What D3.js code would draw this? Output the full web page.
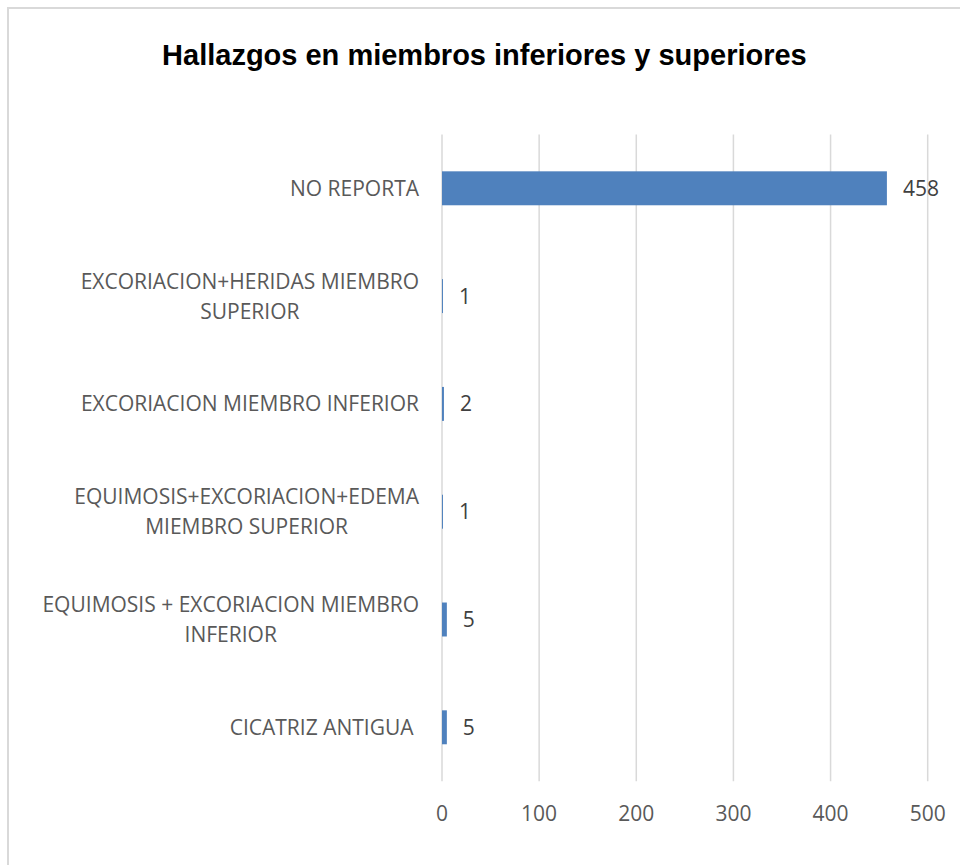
<!DOCTYPE html>
<html>
<head>
<meta charset="utf-8">
<script src="https://cdn.jsdelivr.net/npm/d3@7"></script>
<style>
  body { margin: 0; background: #fff; }
  svg { display: block; }
</style>
</head>
<body>
<div class="container"></div>
<script>
// categories top to bottom, "\n" marks where the label wraps
const categories = [
  "NO REPORTA",
  "EXCORIACION+HERIDAS MIEMBRO\nSUPERIOR",
  "EXCORIACION MIEMBRO INFERIOR",
  "EQUIMOSIS+EXCORIACION+EDEMA\nMIEMBRO SUPERIOR",
  "EQUIMOSIS + EXCORIACION MIEMBRO\nINFERIOR",
  "CICATRIZ ANTIGUA "
];
const values = [458, 1, 2, 1, 5, 5];
const xTicks = [0, 100, 200, 300, 400, 500];
const title = "Hallazgos en miembros inferiores y superiores";

const width = 960;
const height = 865;
const margin = { top: 134.4, right: 32.3, bottom: 83.8, left: 442 };

const svg = d3
  .select(".container")
  .append("svg")
  .attr("width", width)
  .attr("height", height);

// chart frame (only top and left edges fall inside the picture)
svg.append("rect")
  .attr("x", 8)
  .attr("y", 8)
  .attr("width", 1000)
  .attr("height", 1000)
  .attr("fill", "#fff")
  .attr("stroke", "#d9d9d9")
  .attr("stroke-width", 2);

svg.append("text")
  .attr("x", 484.4)
  .attr("y", 65)
  .attr("text-anchor", "middle")
  .style("font", "bold 29px 'Liberation Sans', Arial, sans-serif")
  .attr("fill", "#000")
  .text(title);

const x = d3.scaleLinear()
  .domain([0, 500])
  .range([margin.left, width - margin.right]);

const y = d3.scaleBand()
  .domain(categories)
  .range([margin.top, height - margin.bottom])
  .paddingInner(0.685)
  .paddingOuter(0.3425);

// vertical gridlines
svg.append("g")
  .selectAll("line")
  .data(xTicks)
  .join("line")
  .attr("x1", d => x(d))
  .attr("x2", d => x(d))
  .attr("y1", margin.top)
  .attr("y2", height - margin.bottom)
  .attr("stroke", "#d9d9d9")
  .attr("stroke-width", 1.5);

// x tick labels
svg.append("g")
  .selectAll("text")
  .data(xTicks)
  .join("text")
  .attr("x", d => x(d))
  .attr("y", 813)
  .attr("dy", "0.36em")
  .attr("text-anchor", "middle")
  .attr("fill", "#595959")
  .style("font", "21px 'Open Sans', sans-serif")
  .text(d => d);

// bars
svg.append("g")
  .selectAll("rect")
  .data(categories)
  .join("rect")
  .attr("x", x(0))
  .attr("y", d => y(d))
  .attr("width", (d, i) => x(values[i]) - x(0))
  .attr("height", y.bandwidth())
  .attr("fill", "#4f81bd");

// value labels
svg.append("g")
  .selectAll("text")
  .data(categories)
  .join("text")
  .attr("x", (d, i) => x(values[i]) + 16)
  .attr("y", d => y(d) + y.bandwidth() / 2)
  .attr("dy", "0.36em")
  .attr("fill", "#404040")
  .style("font", "21px 'Open Sans', sans-serif")
  .text((d, i) => values[i]);

// category labels, wrapped lines centred on each other, block right-aligned
const labelRight = 419;
const lineGap = 30;
const gLabels = svg.append("g")
  .style("font", "21px 'Open Sans', sans-serif")
  .attr("fill", "#595959");

categories.forEach(cat => {
  const lines = cat.split("\n");
  const t = gLabels.append("text")
    .attr("text-anchor", "middle")
    .style("white-space", "pre");
  const cy = y(cat) + y.bandwidth() / 2;
  lines.forEach((ln, j) => {
    t.append("tspan")
      .attr("y", cy + (j - (lines.length - 1) / 2) * lineGap)
      .attr("dy", "0.36em")
      .text(ln);
  });
  let maxW = 0;
  t.selectAll("tspan").each(function () {
    maxW = Math.max(maxW, this.getComputedTextLength());
  });
  t.selectAll("tspan").attr("x", labelRight - maxW / 2);
});
</script>
</body>
</html>
